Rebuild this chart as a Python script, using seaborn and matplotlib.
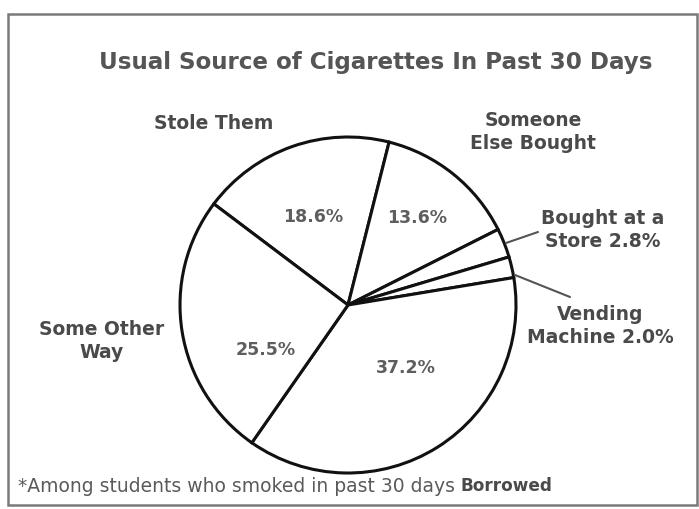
import matplotlib
matplotlib.use("Agg")
import matplotlib.pyplot as plt
import seaborn as sns
from matplotlib.patches import Rectangle

sns.set_theme(style="white")
plt.rcParams['font.family'] = ['DejaVu Sans']

# ---- data ----
categories = ["Stole Them", "Someone Else Bought", "Bought at a Store",
              "Vending Machine", "Borrowed", "Some Other Way"]
values = [18.6, 13.6, 2.8, 2.0, 37.2, 25.5]
title = "Usual Source of Cigarettes In Past 30 Days"
footnote = "*Among students who smoked in past 30 days"

W, H = 699, 509
fig = plt.figure(figsize=(W / 100, H / 100), dpi=100)
ax = fig.add_axes([0, 0, 1, 1])

def Y(y):  # image-row -> data y
    return H - y

ax.pie(values, startangle=143, counterclock=False,
       colors=["white"] * len(values),
       wedgeprops=dict(edgecolor="#111111", linewidth=2.2),
       center=(348, Y(305)), radius=168)
ax.set_xlim(0, W)
ax.set_ylim(0, H)
ax.set_aspect("equal")
ax.axis("off")

# frame
ax.add_patch(Rectangle((8, Y(505)), 689, 491, fill=False,
                       edgecolor="#7a7a7a", linewidth=1.8))

lab_c = "#4a4a4a"
pct_c = "#5e5e5e"
LFS = 13.5

ax.text(376, Y(62), title, ha="center", va="center", fontsize=16.6,
        fontweight="bold", color="#555555")

ax.text(214, Y(123), categories[0], ha="center", va="center",
        fontsize=LFS, fontweight="bold", color=lab_c)
ax.text(533, Y(132), "Someone\nElse Bought", ha="center", va="center",
        fontsize=LFS, fontweight="bold", color=lab_c, linespacing=1.25)
ax.text(603, Y(230), f"Bought at a\nStore {values[2]}%", ha="center", va="center",
        fontsize=LFS, fontweight="bold", color=lab_c, linespacing=1.25)
ax.text(600, Y(326), f"Vending\nMachine {values[3]}%", ha="center", va="center",
        fontsize=LFS, fontweight="bold", color=lab_c, linespacing=1.25)
ax.text(102, Y(341), "Some Other\nWay", ha="center", va="center",
        fontsize=LFS, fontweight="bold", color=lab_c, linespacing=1.25)

pct_pos = {0: (313, 217), 1: (417, 218), 5: (266, 350), 4: (406, 368)}
for i, (x, y) in pct_pos.items():
    ax.text(x, Y(y), f"{values[i]}%", ha="center", va="center",
            fontsize=12.5, fontweight="bold", color=pct_c)

# leader lines
ax.plot([538, 506], [Y(232), Y(243)], color="#555555", lw=1.5)
ax.plot([570, 515], [Y(297), Y(275)], color="#555555", lw=1.5)

ax.text(18, Y(486), footnote, ha="left", va="center", fontsize=13.5,
        color="#5a5a5a")
ax.text(460, Y(486), "Borrowed", ha="left", va="center", fontsize=12.2,
        fontweight="bold", color=lab_c)

fig.savefig("out.png", dpi=100)
